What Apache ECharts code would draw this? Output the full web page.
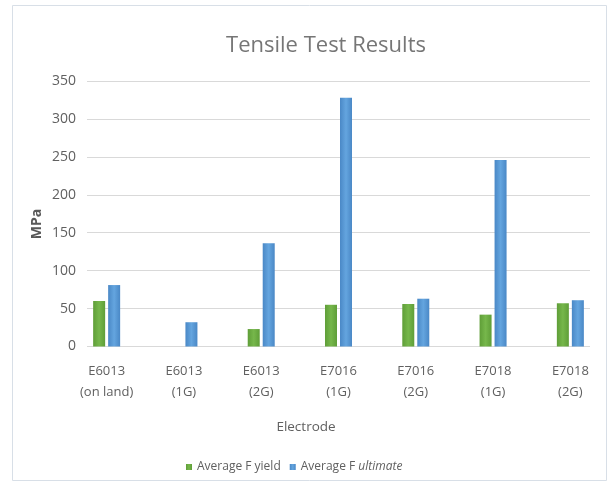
<!DOCTYPE html>
<html>
<head>
<meta charset="utf-8">
<script src="https://cdn.jsdelivr.net/npm/echarts@6/dist/echarts.min.js"></script>
<style>html,body{margin:0;padding:0;background:#fff;}#c{width:609px;height:489px;}</style>
</head>
<body>
<div id="c"></div>
<script>
const categories = ['E6013\n(on land)', 'E6013\n(1G)', 'E6013\n(2G)', 'E7016\n(1G)', 'E7016\n(2G)', 'E7018\n(1G)', 'E7018\n(2G)'];
const yieldValues = [60, null, 23, 55, 56, 42, 57];
const ultimateValues = [81, 32, 136, 328, 63, 246, 61];
const yMin = 0, yMax = 350, yStep = 50;

const FONT = '"Open Sans", "Noto Sans", sans-serif';
const chart = echarts.init(document.getElementById('c'), null, {renderer: 'canvas'});

function grad(edge, mid) {
  return new echarts.graphic.LinearGradient(0, 0, 1, 0, [
    {offset: 0, color: edge}, {offset: 0.5, color: mid}, {offset: 1, color: edge}
  ]);
}

chart.setOption({
  animation: false,
  backgroundColor: '#ffffff',
  graphic: [
    {type: 'rect', shape: {x: 12.5, y: 5.5, width: 594, height: 475}, style: {fill: 'none', stroke: '#d8dfe7', lineWidth: 1}, z: -1},
    {type: 'text', x: 326, y: 46, style: {text: 'Tensile Test Results', font: '22px ' + FONT, fill: '#767676', textAlign: 'center', textVerticalAlign: 'middle'}},
    {type: 'text', x: 37, y: 224, rotation: Math.PI / 2, style: {text: 'MPa', font: 'bold 14px ' + FONT, fill: '#595959', textAlign: 'center', textVerticalAlign: 'middle'}},
    {type: 'text', x: 306, y: 427, style: {text: 'Electrode', font: '13.5px ' + FONT, fill: '#606060', textAlign: 'center', textVerticalAlign: 'middle'}}
  ],
  legend: {
    left: 181, top: 456,
    itemWidth: 6, itemHeight: 6, itemGap: 9,
    icon: 'rect',
    data: ['Average F yield', 'Average F ultimate'],
    formatter: function (name) {
      return name === 'Average F ultimate' ? '{n|Average F }{i|ultimate}' : '{n|' + name + '}';
    },
    textStyle: {
      color: '#606060', fontFamily: FONT, fontSize: 12,
      rich: {
        n: {color: '#606060', fontFamily: FONT, fontSize: 12},
        i: {color: '#606060', fontFamily: FONT, fontSize: 12, fontStyle: 'italic'}
      }
    }
  },
  grid: [
    {left: 87, right: 19, top: 81, bottom: 142.5},
    {left: 68, width: 542, top: 81, bottom: 142.5}
  ],
  xAxis: [
    {type: 'value', gridIndex: 0, min: 0, max: 1, show: false},
    {
      type: 'category', gridIndex: 1, data: categories,
      axisLine: {show: false}, axisTick: {show: false},
      axisLabel: {margin: 14, lineHeight: 21, fontSize: 13, fontFamily: FONT, color: '#606060', interval: 0}
    }
  ],
  yAxis: [
    {
      type: 'value', gridIndex: 0, min: yMin, max: yMax, interval: yStep,
      axisLine: {show: false}, axisTick: {show: false},
      splitLine: {lineStyle: {color: '#d9d9d9', width: 1}},
      axisLabel: {margin: 11, fontSize: 14, fontFamily: FONT, color: '#606060'}
    },
    {type: 'value', gridIndex: 1, min: yMin, max: yMax, interval: yStep, show: false, splitLine: {show: false}}
  ],
  series: [
    {
      name: 'Average F yield', type: 'bar', xAxisIndex: 1, yAxisIndex: 1,
      data: yieldValues, barWidth: 12, barGap: '25%',
      itemStyle: {color: grad('#5f9e38', '#76b74b')}
    },
    {
      name: 'Average F ultimate', type: 'bar', xAxisIndex: 1, yAxisIndex: 1,
      data: ultimateValues, barWidth: 12, barGap: '25%',
      itemStyle: {color: grad('#4a88c6', '#64a5df')}
    }
  ]
});
</script>
</body>
</html>
